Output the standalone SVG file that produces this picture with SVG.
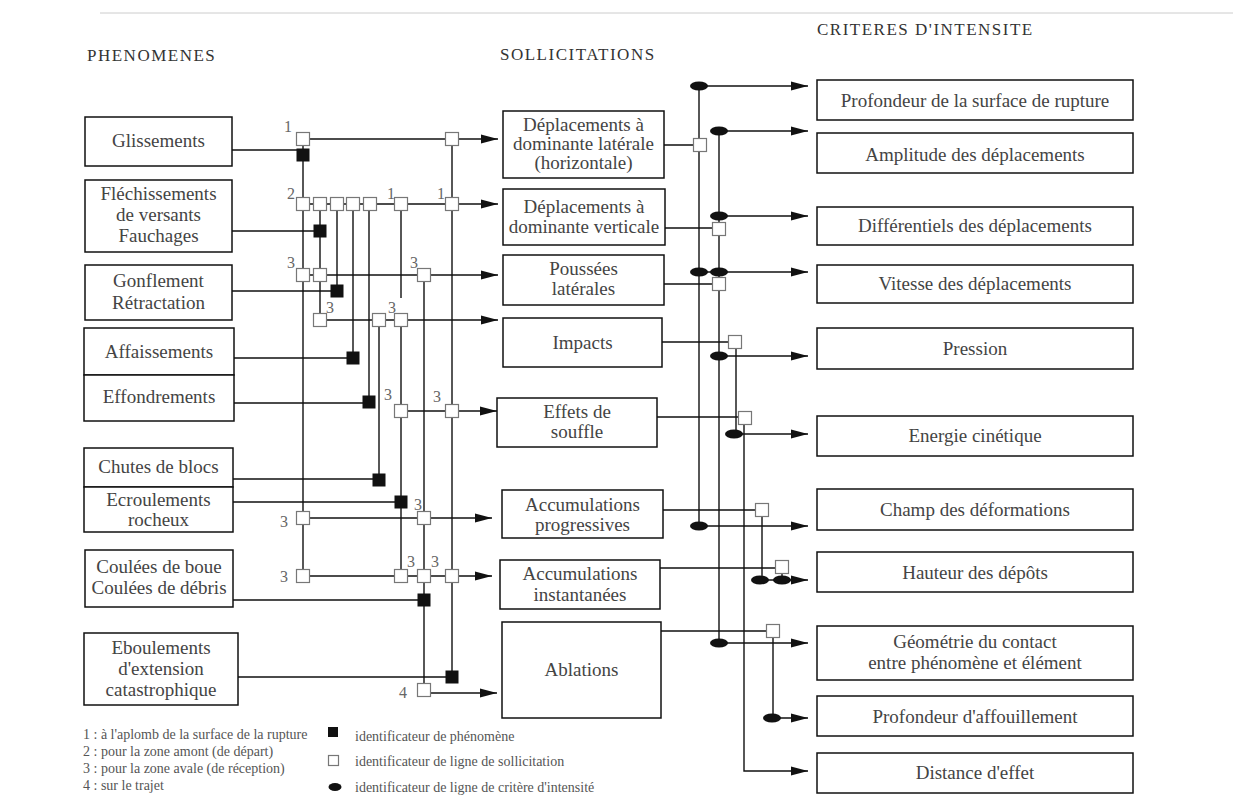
<svg xmlns="http://www.w3.org/2000/svg" xmlns:xlink="http://www.w3.org/1999/xlink" width="1233" height="797" viewBox="0 0 1233 797">
<style>
.box{fill:#fff;stroke:#111;stroke-width:1.5}
.t{font-family:"Liberation Serif","Times New Roman",serif;font-size:19px;fill:#444;text-anchor:middle}
.h{font-family:"Liberation Serif","Times New Roman",serif;font-size:17px;fill:#333;letter-spacing:1.5px}
.n{font-family:"Liberation Serif","Times New Roman",serif;font-size:16px;fill:#666;text-anchor:middle}
.lg{font-family:"Liberation Serif","Times New Roman",serif;font-size:14px;fill:#555}
.ln{stroke:#111;stroke-width:1.4;fill:none}
.ar{marker-end:url(#ah)}
.ws{fill:#fff;stroke:#777;stroke-width:1.2}
.bs{fill:#111}
</style>
<defs>
<marker id="ah" markerUnits="userSpaceOnUse" markerWidth="17" markerHeight="10" refX="17" refY="5" orient="auto">
<path d="M0,0.5 L17,5 L0,9.5 Z" fill="#111"/>
</marker>
<rect id="wsq" class="ws" x="-6.5" y="-6.5" width="13" height="13"/>
<rect id="bsq" class="bs" x="-6.5" y="-6.5" width="13" height="13"/>
<ellipse id="dot" rx="9" ry="4.5" fill="#111"/>
</defs>
<rect width="1233" height="797" fill="#fff"/>
<line x1="100" y1="13" x2="1233" y2="13" stroke="#ccc" stroke-width="1"/>

<g id="headers">
<text class="h" x="87" y="61">PHENOMENES</text>
<text class="h" x="500" y="60">SOLLICITATIONS</text>
<text class="h" x="817" y="35">CRITERES D'INTENSITE</text>
</g>

<g id="connectors">
<path class="ln" d="M303,139 V576 M320,204 V320 M337,204 V291 M353,204 V358 M369,204 V402 M379,320 V480 M401,204 V298 M401,320 V576 M424,275 V690 M452,139 V677"/>
<path class="ln" d="M232,150 H303 M232,231 H320 M232,291 H337 M234,358 H353 M234,403 H369 M233,479 H379 M233,502 H401 M233,600 H424 M238,677 H452"/>
<path class="ln ar" d="M303,139 H498"/>
<path class="ln ar" d="M303,204 H498"/>
<path class="ln ar" d="M303,275 H498"/>
<path class="ln ar" d="M320,320 H498"/>
<path class="ln ar" d="M401,411 H497"/>
<path class="ln ar" d="M303,518 H492"/>
<path class="ln ar" d="M303,576 H492"/>
<path class="ln ar" d="M424,693 H497"/>
<path class="ln" d="M664,145 H700 M665,228 H719 M664,284 H719 M662,342 H735 M657,417 H745 M663,510 H762 M660,568 H782 M661,631 H773"/>
<path class="ln" d="M699,86 V526 M719,131 V643 M736,342 V434 M762,510 V580 M782,568 V580 M773,631 V718"/>
<path class="ln ar" d="M744,418 V771 H808"/>
<path class="ln ar" d="M699,86 H808"/>
<path class="ln ar" d="M719,131 H808"/>
<path class="ln ar" d="M719,216 H808"/>
<path class="ln ar" d="M699,272 H808"/>
<path class="ln ar" d="M719,356 H808"/>
<path class="ln ar" d="M734,434 H808"/>
<path class="ln ar" d="M699,526 H808"/>
<path class="ln ar" d="M760,580 H808"/>
<path class="ln ar" d="M719,643 H808"/>
<path class="ln ar" d="M773,718 H808"/>

<g id="phen-ids">
<use xlink:href="#bsq" x="303" y="155"/>
<use xlink:href="#bsq" x="320" y="231"/>
<use xlink:href="#bsq" x="337" y="291"/>
<use xlink:href="#bsq" x="353" y="358"/>
<use xlink:href="#bsq" x="369" y="402"/>
<use xlink:href="#bsq" x="379" y="480"/>
<use xlink:href="#bsq" x="401" y="502"/>
<use xlink:href="#bsq" x="424" y="600"/>
<use xlink:href="#bsq" x="452" y="677"/>
</g>
<g id="soll-ids">
<use xlink:href="#wsq" x="303" y="139"/>
<use xlink:href="#wsq" x="452" y="139"/>
<use xlink:href="#wsq" x="303" y="204"/>
<use xlink:href="#wsq" x="320" y="204"/>
<use xlink:href="#wsq" x="337" y="204"/>
<use xlink:href="#wsq" x="353" y="204"/>
<use xlink:href="#wsq" x="370" y="204"/>
<use xlink:href="#wsq" x="401" y="204"/>
<use xlink:href="#wsq" x="452" y="204"/>
<use xlink:href="#wsq" x="303" y="275"/>
<use xlink:href="#wsq" x="320" y="275"/>
<use xlink:href="#wsq" x="424" y="275"/>
<use xlink:href="#wsq" x="320" y="320"/>
<use xlink:href="#wsq" x="379" y="320"/>
<use xlink:href="#wsq" x="401" y="320"/>
<use xlink:href="#wsq" x="401" y="411"/>
<use xlink:href="#wsq" x="452" y="411"/>
<use xlink:href="#wsq" x="303" y="518"/>
<use xlink:href="#wsq" x="424" y="518"/>
<use xlink:href="#wsq" x="303" y="576"/>
<use xlink:href="#wsq" x="401" y="576"/>
<use xlink:href="#wsq" x="424" y="576"/>
<use xlink:href="#wsq" x="452" y="576"/>
<use xlink:href="#wsq" x="424" y="690"/>
<use xlink:href="#wsq" x="700" y="145"/>
<use xlink:href="#wsq" x="719" y="229"/>
<use xlink:href="#wsq" x="719" y="284"/>
<use xlink:href="#wsq" x="735" y="342"/>
<use xlink:href="#wsq" x="745" y="418"/>
<use xlink:href="#wsq" x="762" y="510"/>
<use xlink:href="#wsq" x="782" y="567"/>
<use xlink:href="#wsq" x="773" y="631"/>
</g>
<g id="crit-ids">
<use xlink:href="#dot" x="699" y="86"/>
<use xlink:href="#dot" x="719" y="131"/>
<use xlink:href="#dot" x="719" y="216"/>
<use xlink:href="#dot" x="699" y="272"/>
<use xlink:href="#dot" x="719" y="272"/>
<use xlink:href="#dot" x="719" y="356"/>
<use xlink:href="#dot" x="734" y="434"/>
<use xlink:href="#dot" x="699" y="526"/>
<use xlink:href="#dot" x="760" y="580"/>
<use xlink:href="#dot" x="782" y="580"/>
<use xlink:href="#dot" x="719" y="643"/>
<use xlink:href="#dot" x="772" y="718"/>
</g>
<g id="zone-labels">
<text class="n" x="288" y="132">1</text>
<text class="n" x="291" y="199">2</text>
<text class="n" x="391" y="199">1</text>
<text class="n" x="441" y="199">1</text>
<text class="n" x="291" y="268">3</text>
<text class="n" x="414" y="268">3</text>
<text class="n" x="330" y="313">3</text>
<text class="n" x="392" y="313">3</text>
<text class="n" x="388" y="400">3</text>
<text class="n" x="437" y="402">3</text>
<text class="n" x="284" y="527">3</text>
<text class="n" x="418" y="510">3</text>
<text class="n" x="284" y="582">3</text>
<text class="n" x="411" y="567">3</text>
<text class="n" x="435" y="567">3</text>
<text class="n" x="403" y="698">4</text>
</g>
</g>

<g id="phenomenes">
<g id="p-glissements"><rect class="box" x="85" y="117" width="147" height="49"/><text class="t" x="158.5" y="147">Glissements</text></g>
<g id="p-flechissements"><rect class="box" x="85" y="180" width="147" height="72"/><text class="t" x="158.5" y="200">Fléchissements</text><text class="t" x="158.5" y="221">de versants</text><text class="t" x="158.5" y="242">Fauchages</text></g>
<g id="p-gonflement"><rect class="box" x="85" y="265" width="147" height="55"/><text class="t" x="158.5" y="287">Gonflement</text><text class="t" x="158.5" y="309">Rétractation</text></g>
<g id="p-affaissements"><rect class="box" x="84" y="328" width="150" height="47"/><text class="t" x="159" y="358">Affaissements</text></g>
<g id="p-effondrements"><rect class="box" x="84" y="375" width="150" height="46"/><text class="t" x="159" y="403">Effondrements</text></g>
<g id="p-chutes"><rect class="box" x="84" y="448" width="149" height="39"/><text class="t" x="158.5" y="473">Chutes de blocs</text></g>
<g id="p-ecroulements"><rect class="box" x="84" y="487" width="149" height="45"/><text class="t" x="158.5" y="506">Ecroulements</text><text class="t" x="158.5" y="526">rocheux</text></g>
<g id="p-coulees"><rect class="box" x="85" y="550" width="148" height="57"/><text class="t" x="159" y="573">Coulées de boue</text><text class="t" x="159" y="594">Coulées de débris</text></g>
<g id="p-eboulements"><rect class="box" x="84" y="633" width="154" height="72"/><text class="t" x="161" y="654">Eboulements</text><text class="t" x="161" y="675">d'extension</text><text class="t" x="161" y="696">catastrophique</text></g>
</g>

<g id="sollicitations">
<g id="s-lat"><rect class="box" x="503" y="111" width="161" height="67"/><text class="t" x="583.5" y="131">Déplacements à</text><text class="t" x="583.5" y="150">dominante latérale</text><text class="t" x="583.5" y="169">(horizontale)</text></g>
<g id="s-vert"><rect class="box" x="503" y="189" width="162" height="56"/><text class="t" x="584" y="213">Déplacements à</text><text class="t" x="584" y="233">dominante verticale</text></g>
<g id="s-poussees"><rect class="box" x="503" y="255" width="161" height="50"/><text class="t" x="583.5" y="275">Poussées</text><text class="t" x="583.5" y="295">latérales</text></g>
<g id="s-impacts"><rect class="box" x="503" y="318" width="159" height="49"/><text class="t" x="582.5" y="349">Impacts</text></g>
<g id="s-souffle"><rect class="box" x="497" y="398" width="160" height="49"/><text class="t" x="577" y="418">Effets de</text><text class="t" x="577" y="438">souffle</text></g>
<g id="s-accprog"><rect class="box" x="502" y="490" width="161" height="48"/><text class="t" x="582.5" y="511">Accumulations</text><text class="t" x="582.5" y="531">progressives</text></g>
<g id="s-accinst"><rect class="box" x="500" y="560" width="160" height="49"/><text class="t" x="580" y="580">Accumulations</text><text class="t" x="580" y="601">instantanées</text></g>
<g id="s-ablations"><rect class="box" x="502" y="622" width="159" height="96"/><text class="t" x="581.5" y="676">Ablations</text></g>
</g>

<g id="criteres">
<g id="c1"><rect class="box" x="817" y="80" width="316" height="40"/><text class="t" x="975" y="107">Profondeur de la surface de rupture</text></g>
<g id="c2"><rect class="box" x="817" y="133" width="316" height="40"/><text class="t" x="975" y="161">Amplitude des déplacements</text></g>
<g id="c3"><rect class="box" x="817" y="207" width="316" height="38"/><text class="t" x="975" y="232">Différentiels des déplacements</text></g>
<g id="c4"><rect class="box" x="817" y="265" width="316" height="38"/><text class="t" x="975" y="290">Vitesse des déplacements</text></g>
<g id="c5"><rect class="box" x="817" y="328" width="316" height="41"/><text class="t" x="975" y="355">Pression</text></g>
<g id="c6"><rect class="box" x="817" y="416" width="316" height="40"/><text class="t" x="975" y="442">Energie cinétique</text></g>
<g id="c7"><rect class="box" x="817" y="489" width="316" height="41"/><text class="t" x="975" y="516">Champ des déformations</text></g>
<g id="c8"><rect class="box" x="817" y="552" width="316" height="40"/><text class="t" x="975" y="579">Hauteur des dépôts</text></g>
<g id="c9"><rect class="box" x="817" y="626" width="316" height="54"/><text class="t" x="975" y="648">Géométrie du contact</text><text class="t" x="975" y="669">entre phénomène et élément</text></g>
<g id="c10"><rect class="box" x="817" y="696" width="316" height="40"/><text class="t" x="975" y="723">Profondeur d'affouillement</text></g>
<g id="c11"><rect class="box" x="817" y="753" width="316" height="40"/><text class="t" x="975" y="779">Distance d'effet</text></g>
</g>

<g id="legend">
<text class="lg" x="83" y="739">1 : à l'aplomb de la surface de la rupture</text>
<text class="lg" x="83" y="756">2 : pour la zone amont (de départ)</text>
<text class="lg" x="83" y="773">3 : pour la zone avale (de réception)</text>
<text class="lg" x="83" y="790">4 : sur le trajet</text>
<rect x="328" y="727" width="10" height="10" fill="#111"/>
<text class="lg" x="355" y="741">identificateur de phénomène</text>
<rect x="328.5" y="755.5" width="10" height="10" class="ws"/>
<text class="lg" x="355" y="766">identificateur de ligne de sollicitation</text>
<ellipse cx="335" cy="787" rx="6.5" ry="4" fill="#111"/>
<text class="lg" x="355" y="792">identificateur de ligne de critère d'intensité</text>
</g>
</svg>
